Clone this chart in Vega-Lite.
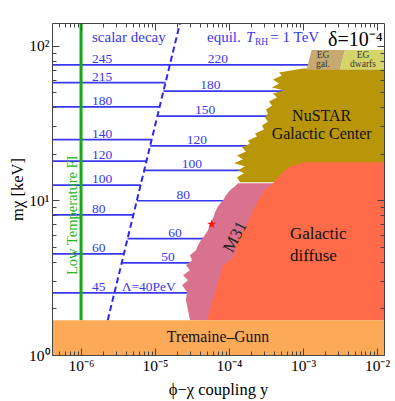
{
  "$schema": "https://vega.github.io/schema/vega-lite/v6.json",
  "width": 332,
  "height": 332,
  "autosize": {"type": "none"},
  "padding": {"left": 52, "top": 23, "right": 11, "bottom": 46},
  "config": {"font": "Liberation Serif", "view": {"stroke": null}},
  "datasets": {
    "lines": [
      {"x": 3e-7, "x2": 0.001243, "y": 75.09},
      {"x": 3e-7, "x2": 0.0000139, "y": 57.71},
      {"x": 3e-7, "x2": 0.00001157, "y": 40.23},
      {"x": 3e-7, "x2": 0.00000899, "y": 24.64},
      {"x": 3e-7, "x2": 0.00000765, "y": 17.93},
      {"x": 3e-7, "x2": 0.00000639, "y": 12.55},
      {"x": 3e-7, "x2": 0.00000509, "y": 8.04},
      {"x": 3e-7, "x2": 0.00000379, "y": 4.5},
      {"x": 3e-7, "x2": 0.0000316, "y": 2.523},
      {"x": 0.00001302, "x2": 0.000608, "y": 50.72},
      {"x": 0.00001077, "x2": 0.00037, "y": 34.99},
      {"x": 0.00000859, "x2": 0.000175, "y": 22.47},
      {"x": 0.00000715, "x2": 0.0001697, "y": 15.62},
      {"x": 0.00000568, "x2": 0.0000969, "y": 9.93},
      {"x": 0.00000425, "x2": 0.0000489, "y": 5.645},
      {"x": 0.00000354, "x2": 0.0000358, "y": 3.939}
    ],
    "dash": [{"x": 0.000002296, "y": 1.68, "x2": 0.00002177, "y2": 140}],
    "green": [{"x": 0.000001, "y": 1.68, "y2": 140}],
    "nustar": [
      {"y": 13.06, "x": 0.0001408, "x2": 0.02}, {"y": 14.08, "x": 0.0001282, "x2": 0.02},
      {"y": 14.94, "x": 0.0001595, "x2": 0.02}, {"y": 15.62, "x": 0.0001323, "x2": 0.02},
      {"y": 16.57, "x": 0.0001645, "x2": 0.02}, {"y": 17.33, "x": 0.0001168, "x2": 0.02},
      {"y": 18.39, "x": 0.0001546, "x2": 0.02}, {"y": 19.51, "x": 0.0001282, "x2": 0.02},
      {"y": 20.71, "x": 0.0001697, "x2": 0.02}, {"y": 21.98, "x": 0.0001499, "x2": 0.02},
      {"y": 23.32, "x": 0.0001922, "x2": 0.02}, {"y": 24.38, "x": 0.0001806, "x2": 0.02},
      {"y": 25.88, "x": 0.000239, "x2": 0.02}, {"y": 27.05, "x": 0.0002246, "x2": 0.02},
      {"y": 28.71, "x": 0.0002972, "x2": 0.02}, {"y": 30.47, "x": 0.0002792, "x2": 0.02},
      {"y": 32.34, "x": 0.0003365, "x2": 0.02}, {"y": 34.31, "x": 0.0003065, "x2": 0.02},
      {"y": 36.41, "x": 0.0003365, "x2": 0.02}, {"y": 38.65, "x": 0.0003162, "x2": 0.02},
      {"y": 41.02, "x": 0.000381, "x2": 0.02}, {"y": 43.53, "x": 0.000347, "x2": 0.02},
      {"y": 46.19, "x": 0.000445, "x2": 0.02}, {"y": 49.01, "x": 0.0003931, "x2": 0.02},
      {"y": 51.25, "x": 0.000554, "x2": 0.02}, {"y": 53.58, "x": 0.000381, "x2": 0.02},
      {"y": 56.88, "x": 0.000474, "x2": 0.02}, {"y": 60.35, "x": 0.0003931, "x2": 0.02},
      {"y": 64.04, "x": 0.00052, "x2": 0.02}, {"y": 66.96, "x": 0.000474, "x2": 0.02},
      {"y": 71.06, "x": 0.001, "x2": 0.02}
    ],
    "m31": [
      {"y": 1.68, "x": 0.0000297, "x2": 0.02}, {"y": 1.951, "x": 0.0000279, "x2": 0.02},
      {"y": 2.264, "x": 0.0000262, "x2": 0.02}, {"y": 2.55, "x": 0.0000271, "x2": 0.02},
      {"y": 2.829, "x": 0.0000232, "x2": 0.02}, {"y": 3.047, "x": 0.0000279, "x2": 0.02},
      {"y": 3.282, "x": 0.0000239, "x2": 0.02}, {"y": 3.535, "x": 0.0000297, "x2": 0.02},
      {"y": 3.808, "x": 0.0000262, "x2": 0.02}, {"y": 4.102, "x": 0.0000316, "x2": 0.02},
      {"y": 4.418, "x": 0.0000297, "x2": 0.02}, {"y": 4.758, "x": 0.0000358, "x2": 0.02},
      {"y": 5.125, "x": 0.0000381, "x2": 0.02}, {"y": 5.52, "x": 0.0000418, "x2": 0.02},
      {"y": 5.857, "x": 0.0000459, "x2": 0.02}, {"y": 6.404, "x": 0.000052, "x2": 0.02},
      {"y": 7.0, "x": 0.0000554, "x2": 0.02}, {"y": 7.654, "x": 0.0000608, "x2": 0.02},
      {"y": 8.368, "x": 0.0000647, "x2": 0.02}, {"y": 9.148, "x": 0.000071, "x2": 0.02},
      {"y": 10, "x": 0.000083, "x2": 0.02}, {"y": 10.77, "x": 0.0000911, "x2": 0.02},
      {"y": 11.6, "x": 0.0001031, "x2": 0.02}, {"y": 12.31, "x": 0.0001206, "x2": 0.02},
      {"y": 12.87, "x": 0.0001323, "x2": 0.02}
    ],
    "diffuse": [
      {"y": 1.68, "x": 0.00005, "x2": 0.02}, {"y": 2.55, "x": 0.0000647, "x2": 0.02},
      {"y": 3.808, "x": 0.000083, "x2": 0.02}, {"y": 4.102, "x": 0.0001031, "x2": 0.02},
      {"y": 4.289, "x": 0.0001168, "x2": 0.02}, {"y": 5.125, "x": 0.0001243, "x2": 0.02},
      {"y": 6.216, "x": 0.0001453, "x2": 0.02}, {"y": 7.214, "x": 0.0001806, "x2": 0.02},
      {"y": 8.62, "x": 0.000211, "x2": 0.02}, {"y": 10, "x": 0.0002465, "x2": 0.02},
      {"y": 11.6, "x": 0.0003065, "x2": 0.02}, {"y": 12.87, "x": 0.0003931, "x2": 0.02},
      {"y": 14.5, "x": 0.000489, "x2": 0.02}, {"y": 16.57, "x": 0.000667, "x2": 0.02},
      {"y": 17.59, "x": 0.001064, "x2": 0.02}
    ],
    "eggal": [{"y": 69.7, "x": 0.00112, "x2": 0.00316}, {"y": 93.8, "x": 0.00131, "x2": 0.0037}],
    "egdw": [{"y": 69.7, "x": 0.00316, "x2": 0.02}, {"y": 93.8, "x": 0.0037, "x2": 0.02}],
    "tg": [{"x": 1e-7, "x2": 0.1, "y": 1, "y2": 1.68}],
    "leftlab": [
      {"x": 0.000001408, "y": 75.09, "text": "245"},
      {"x": 0.000001408, "y": 57.71, "text": "215"},
      {"x": 0.000001408, "y": 40.23, "text": "180"},
      {"x": 0.000001408, "y": 24.64, "text": "140"},
      {"x": 0.000001408, "y": 17.93, "text": "120"},
      {"x": 0.000001408, "y": 12.55, "text": "100"},
      {"x": 0.000001408, "y": 8.04, "text": "80"},
      {"x": 0.000001408, "y": 4.5, "text": "60"},
      {"x": 0.000001408, "y": 2.523, "text": "45"}
    ],
    "rightlab": [
      {"x": 0.000071, "y": 75.09, "text": "220"},
      {"x": 0.0000562, "y": 50.72, "text": "180"},
      {"x": 0.0000474, "y": 34.99, "text": "150"},
      {"x": 0.0000369, "y": 22.47, "text": "120"},
      {"x": 0.0000316, "y": 15.62, "text": "100"},
      {"x": 0.0000241, "y": 9.93, "text": "80"},
      {"x": 0.00001863, "y": 5.645, "text": "60"},
      {"x": 0.00001498, "y": 3.939, "text": "50"},
      {"x": 0.00000822, "y": 2.523, "text": "Λ=40PeV"}
    ],
    "header": [
      {"x": 0.000001408, "y": 106, "text": "scalar decay"},
      {"x": 0.0000504, "y": 106, "text": "equil."},
      {"x": 0.000362, "y": 106, "text": "= 1 TeV"}
    ],
    "headerT": [{"x": 0.0001697, "y": 106, "text": "T"}],
    "headerRH": [{"x": 0.0002246, "y": 106, "text": "RH"}],
    "delta": [{"x": 0.002177, "y": 100, "text": "δ=10⁻⁴"}],
    "nustartext": [{"x": 0.001789, "y": 34.84, "text": "NuSTAR\nGalactic Center"}],
    "difftext": [{"x": 0.000667, "y": 6.035, "text": "Galactic\ndiffuse"}],
    "tgtext": [{"x": 0.000071, "y": 1.306, "text": "Tremaine–Gunn"}],
    "egtext": [
      {"x": 0.001863, "y": 87.5, "text": "EG\ngal."},
      {"x": 0.00647, "y": 87.5, "text": "EG\ndwarfs"}
    ],
    "lowT": [{"x": 0.000000779, "y": 8.0, "text": "Low Temperature FI"}],
    "m31text": [{"x": 0.000122, "y": 5.797, "text": "M31"}],
    "star": [{"x": 0.0000583, "y": 7.0}]
  },
  "resolve": {"axis": {"x": "independent", "y": "independent"}},
  "encoding": {
    "x": {"field": "x", "type": "quantitative", "scale": {"type": "log", "domain": [4.05e-7, 0.01245], "nice": false}, "axis": null},
    "y": {"field": "y", "type": "quantitative", "scale": {"type": "log", "domain": [1, 140], "nice": false}, "axis": null}
  },
  "layer": [
    {
      "data": {"name": "lines"},
      "mark": {"type": "rule", "color": "#3838ee", "strokeWidth": 1.7, "clip": true},
      "encoding": {"x2": {"field": "x2"}}
    },
    {
      "data": {"name": "dash"},
      "mark": {"type": "rule", "color": "#2a2aee", "strokeWidth": 2, "strokeDash": [6, 3.5], "clip": true},
      "encoding": {"x2": {"field": "x2"}, "y2": {"field": "y2"}}
    },
    {
      "data": {"name": "green"},
      "mark": {"type": "rule", "color": "#16a816", "strokeWidth": 3, "clip": true},
      "encoding": {"y2": {"field": "y2"}}
    },
    {
      "data": {"name": "nustar"},
      "mark": {"type": "area", "orient": "horizontal", "color": "#b99608", "opacity": 1, "clip": true},
      "encoding": {"x": {"field": "x", "type": "quantitative", "stack": null, "scale": {"type": "log", "domain": [4.05e-7, 0.01245], "nice": false}, "axis": null}, "x2": {"field": "x2"}}
    },
    {
      "data": {"name": "m31"},
      "mark": {"type": "area", "orient": "horizontal", "color": "#d9728f", "opacity": 1, "clip": true},
      "encoding": {"x": {"field": "x", "type": "quantitative", "stack": null, "scale": {"type": "log", "domain": [4.05e-7, 0.01245], "nice": false}, "axis": null}, "x2": {"field": "x2"}}
    },
    {
      "data": {"name": "diffuse"},
      "mark": {"type": "area", "orient": "horizontal", "color": "#ff6b48", "opacity": 1, "clip": true},
      "encoding": {"x": {"field": "x", "type": "quantitative", "stack": null, "scale": {"type": "log", "domain": [4.05e-7, 0.01245], "nice": false}, "axis": null}, "x2": {"field": "x2"}}
    },
    {
      "data": {"name": "eggal"},
      "mark": {"type": "area", "orient": "horizontal", "color": "#c8aa70", "opacity": 1, "clip": true},
      "encoding": {"x": {"field": "x", "type": "quantitative", "stack": null, "scale": {"type": "log", "domain": [4.05e-7, 0.01245], "nice": false}, "axis": null}, "x2": {"field": "x2"}}
    },
    {
      "data": {"name": "egdw"},
      "mark": {"type": "area", "orient": "horizontal", "color": "#d6d56c", "opacity": 1, "clip": true},
      "encoding": {"x": {"field": "x", "type": "quantitative", "stack": null, "scale": {"type": "log", "domain": [4.05e-7, 0.01245], "nice": false}, "axis": null}, "x2": {"field": "x2"}}
    },
    {
      "data": {"name": "tg"},
      "mark": {"type": "rect", "color": "#fdaa58", "clip": true},
      "encoding": {
        "x": {"field": "x", "type": "quantitative", "scale": {"type": "log", "domain": [4.05e-7, 0.01245], "nice": false},
          "axis": {"orient": "bottom", "values": [5e-7,6e-7,7e-7,8e-7,9e-7,1e-6,2e-6,3e-6,4e-6,5e-6,6e-6,7e-6,8e-6,9e-6,1e-5,2e-5,3e-5,4e-5,5e-5,6e-5,7e-5,8e-5,9e-5,1e-4,2e-4,3e-4,4e-4,5e-4,6e-4,7e-4,8e-4,9e-4,1e-3,2e-3,3e-3,4e-3,5e-3,6e-3,7e-3,8e-3,9e-3,1e-2],
            "labelExpr": "abs(log(datum.value)/LN10 - round(log(datum.value)/LN10)) > 0.01 ? '' : (datum.value < 5e-6 ? '10⁻⁶' : datum.value < 5e-5 ? '10⁻⁵' : datum.value < 5e-4 ? '10⁻⁴' : datum.value < 5e-3 ? '10⁻³' : '10⁻²')",
            "tickSize": {"condition": {"test": "abs(log(datum.value)/LN10 - round(log(datum.value)/LN10)) < 0.01", "value": -7}, "value": -4},
            "labelPadding": 10, "labelFontSize": 15.5, "labelColor": "#000", "labelOverlap": false, "labelFlush": false,
            "title": "ϕ−χ coupling y", "titleFontSize": 16.5, "titleFontWeight": "normal", "titleColor": "#000", "titlePadding": 5,
            "domainColor": "#444", "tickColor": "#444", "grid": false, "zindex": 1}},
        "x2": {"field": "x2"},
        "y": {"field": "y", "type": "quantitative", "scale": {"type": "log", "domain": [1, 140], "nice": false},
          "axis": {"orient": "left", "values": [1,2,3,4,5,6,7,8,9,10,20,30,40,50,60,70,80,90,100],
            "labelExpr": "abs(log(datum.value)/LN10 - round(log(datum.value)/LN10)) > 0.01 ? '' : (datum.value < 5 ? '10⁰' : datum.value < 50 ? '10¹' : '10²')",
            "tickSize": {"condition": {"test": "abs(log(datum.value)/LN10 - round(log(datum.value)/LN10)) < 0.01", "value": -7}, "value": -4},
            "labelPadding": 10, "labelFontSize": 15.5, "labelColor": "#000", "labelOverlap": false, "labelFlush": false,
            "title": "mχ [keV]", "titleFontSize": 16.5, "titleFontWeight": "normal", "titleColor": "#000", "titlePadding": 3,
            "domainColor": "#444", "tickColor": "#444", "grid": false, "zindex": 1}},
        "y2": {"field": "y2"}
      }
    },
    {
      "data": {"name": "leftlab"},
      "mark": {"type": "text", "align": "left", "baseline": "alphabetic", "dy": -2, "fontSize": 13.5, "color": "#3838ee"},
      "encoding": {"text": {"field": "text"}}
    },
    {
      "data": {"name": "rightlab"},
      "mark": {"type": "text", "align": "center", "baseline": "alphabetic", "dy": -2, "fontSize": 13.5, "color": "#3838ee"},
      "encoding": {"text": {"field": "text"}}
    },
    {
      "data": {"name": "header"},
      "mark": {"type": "text", "align": "left", "baseline": "alphabetic", "fontSize": 15, "color": "#3838ee"},
      "encoding": {"text": {"field": "text"}}
    },
    {
      "data": {"name": "headerT"},
      "mark": {"type": "text", "align": "left", "baseline": "alphabetic", "fontSize": 15, "fontStyle": "italic", "color": "#3838ee"},
      "encoding": {"text": {"field": "text"}}
    },
    {
      "data": {"name": "headerRH"},
      "mark": {"type": "text", "align": "left", "baseline": "alphabetic", "dy": 3, "fontSize": 9.5, "color": "#3838ee"},
      "encoding": {"text": {"field": "text"}}
    },
    {
      "data": {"name": "delta"},
      "mark": {"type": "text", "align": "left", "baseline": "alphabetic", "fontSize": 20, "color": "#000"},
      "encoding": {"text": {"field": "text"}}
    },
    {
      "data": {"name": "nustartext"},
      "mark": {"type": "text", "align": "center", "baseline": "middle", "fontSize": 16, "lineBreak": "\n", "lineHeight": 17.5, "color": "#111"},
      "encoding": {"text": {"field": "text"}}
    },
    {
      "data": {"name": "difftext"},
      "mark": {"type": "text", "align": "left", "baseline": "middle", "fontSize": 17, "lineBreak": "\n", "lineHeight": 22, "color": "#111"},
      "encoding": {"text": {"field": "text"}}
    },
    {
      "data": {"name": "tgtext"},
      "mark": {"type": "text", "align": "center", "baseline": "middle", "fontSize": 15.7, "color": "#111"},
      "encoding": {"text": {"field": "text"}}
    },
    {
      "data": {"name": "egtext"},
      "mark": {"type": "text", "align": "center", "baseline": "middle", "fontSize": 9.5, "lineBreak": "\n", "lineHeight": 9.5, "color": "#333"},
      "encoding": {"text": {"field": "text"}}
    },
    {
      "data": {"name": "lowT"},
      "mark": {"type": "text", "align": "center", "baseline": "middle", "angle": 270, "fontSize": 14.5, "color": "#22b422"},
      "encoding": {"text": {"field": "text"}}
    },
    {
      "data": {"name": "m31text"},
      "mark": {"type": "text", "align": "center", "baseline": "middle", "angle": 298, "fontSize": 17, "color": "#222"},
      "encoding": {"text": {"field": "text"}}
    },
    {
      "data": {"name": "star"},
      "mark": {"type": "point", "shape": "M0,-1L0.235,-0.324L0.951,-0.309L0.38,0.124L0.588,0.809L0,0.4L-0.588,0.809L-0.38,0.124L-0.951,-0.309L-0.235,-0.324Z", "filled": true, "size": 90, "color": "#ff1010", "opacity": 1},
      "encoding": {
        "x": {"field": "x", "type": "quantitative", "scale": {"type": "log", "domain": [4.05e-7, 0.01245], "nice": false},
          "axis": {"orient": "top", "values": [5e-7,6e-7,7e-7,8e-7,9e-7,1e-6,2e-6,3e-6,4e-6,5e-6,6e-6,7e-6,8e-6,9e-6,1e-5,2e-5,3e-5,4e-5,5e-5,6e-5,7e-5,8e-5,9e-5,1e-4,2e-4,3e-4,4e-4,5e-4,6e-4,7e-4,8e-4,9e-4,1e-3,2e-3,3e-3,4e-3,5e-3,6e-3,7e-3,8e-3,9e-3,1e-2],
            "labels": false, "title": null,
            "tickSize": {"condition": {"test": "abs(log(datum.value)/LN10 - round(log(datum.value)/LN10)) < 0.01", "value": -7}, "value": -4},
            "domainColor": "#444", "tickColor": "#444", "grid": false, "zindex": 1}},
        "y": {"field": "y", "type": "quantitative", "scale": {"type": "log", "domain": [1, 140], "nice": false},
          "axis": {"orient": "right", "values": [1,2,3,4,5,6,7,8,9,10,20,30,40,50,60,70,80,90,100],
            "labels": false, "title": null,
            "tickSize": {"condition": {"test": "abs(log(datum.value)/LN10 - round(log(datum.value)/LN10)) < 0.01", "value": -7}, "value": -4},
            "domainColor": "#444", "tickColor": "#444", "grid": false, "zindex": 1}}
      }
    }
  ]
}
